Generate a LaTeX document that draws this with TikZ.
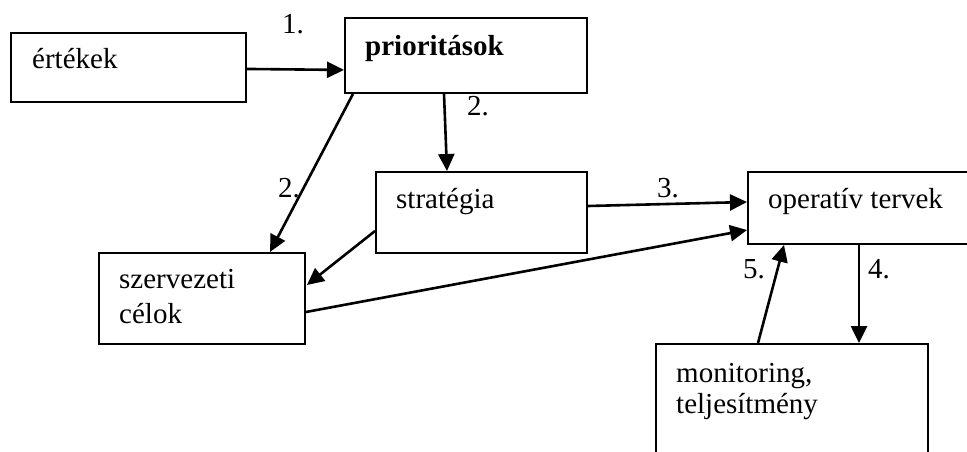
\documentclass[tikz,border=0pt]{standalone}
\usepackage{fontspec}
\setmainfont{Liberation Serif}
\usetikzlibrary{arrows.meta,calc}
\begin{document}
\begin{tikzpicture}[x=1pt,y=-1pt,
  box/.style={draw=black,line width=1.9pt,rectangle,inner sep=0pt,anchor=north west},
  txt/.style={anchor=base west,inner sep=0pt,font=\fontsize{29}{35}\selectfont},
  arr/.style={line width=2.6pt,-{Triangle[length=17pt,width=16pt]}}]
\useasboundingbox (0,0) rectangle (967,451);
\clip (0,0) rectangle (967,451);
% boxes
\node[box,minimum width=235pt,minimum height=69pt] (ert) at (10,32) {};
\node[box,minimum width=242pt,minimum height=75pt] (prio) at (344,17) {};
\node[box,minimum width=211pt,minimum height=81pt] (strat) at (375,171) {};
\node[box,minimum width=206pt,minimum height=91pt] (szerv) at (98,252) {};
\node[box,minimum width=240pt,minimum height=72pt] (oper) at (747,171) {};
\node[box,minimum width=272pt,minimum height=140pt] (mon) at (655,343) {};
% box texts
\node[txt] (tert) at (32,68) {értékek};
\node[txt,font=\fontsize{29}{35}\selectfont\bfseries] (tprio) at (365,55) {prioritások};
\node[txt] (tstrat) at (396,208) {stratégia};
\node[txt] (tszerv1) at (119,288) {szervezeti};
\node[txt] (tszerv2) at (119,323) {célok};
\node[txt] (toper) at (768,208) {operatív tervek};
\node[txt] (tmon1) at (676,382) {monitoring,};
\node[txt] (tmon2) at (676,413) {teljesítmény};
% step numbers
\node[txt] (n1) at (282,33) {1.};
\node[txt] (n2a) at (467,115) {2.};
\node[txt] (n2b) at (278,197) {2.};
\node[txt] (n3) at (657,197) {3.};
\node[txt] (n4) at (868,278) {4.};
\node[txt] (n5) at (743,278) {5.};
% connectors
\draw[arr] ($(ert.east)+(0,1.5)$) -- ($(prio.west)+(0,14.5)$);
\draw[arr] ($(prio.south west)+(9,0)$) -- ($(szerv.north west)+(172,0)$);
\draw[arr] ($(prio.south west)+(100,0)$) -- ($(strat.north west)+(72,0)$);
\draw[arr] ($(strat.north west)+(0,60)$) -- ($(szerv.north east)+(1,33)$);
\draw[arr] ($(strat.north east)+(0,35)$) -- ($(oper.north west)+(0,31)$);
\draw[arr] ($(szerv.north east)+(0,60)$) -- ($(oper.north west)+(0,59)$);
\draw[arr] ($(oper.south west)+(112,0)$) -- ($(mon.north west)+(204,0)$);
\draw[arr] ($(mon.north west)+(103,0)$) -- ($(oper.south west)+(37,0)$);
\end{tikzpicture}
\end{document}
